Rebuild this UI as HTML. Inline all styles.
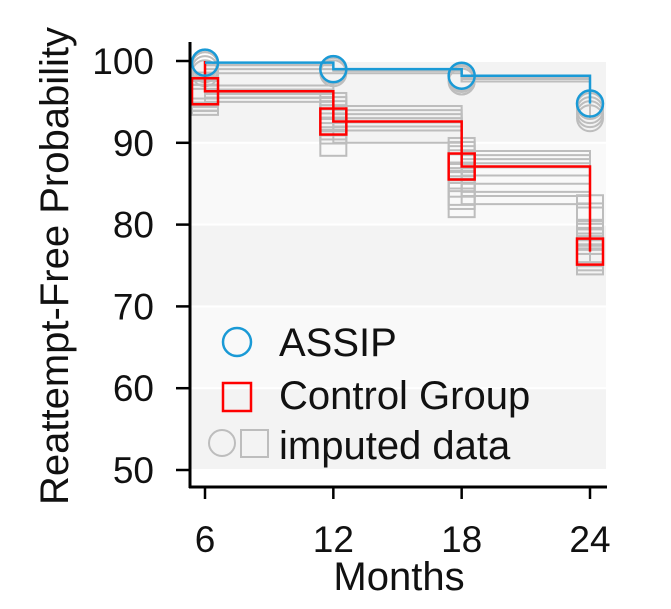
<!DOCTYPE html>
<html><head><meta charset="utf-8"><style>
html,body{margin:0;padding:0;background:#fff;}
svg{display:block;font-family:"Liberation Sans",sans-serif;}
</style></head><body>
<svg id="chart" width="671" height="609" viewBox="0 0 671 609">
<g id="bands"></g><g id="grayLines"></g><g id="mainLines"></g><g id="axes"></g>
<g id="legend">
  <circle cx="237" cy="342" r="14" fill="none" stroke="#1a9ad6" stroke-width="2.5"/>
  <text x="279" y="356" font-size="40" fill="#111">ASSIP</text>
  <rect x="223" y="383" width="28" height="28" fill="none" stroke="#ff0000" stroke-width="2.5"/>
  <text x="279" y="409" font-size="40" fill="#111">Control Group</text>
  <circle cx="222" cy="443" r="13" fill="none" stroke="#bdbdbd" stroke-width="2"/>
  <rect x="241" y="430" width="27" height="27" fill="none" stroke="#bdbdbd" stroke-width="2"/>
  <text x="279" y="459" font-size="40" fill="#111">imputed data</text>
</g>
</svg>
<script>
const months = [6, 12, 18, 24];
const assip = [99.8, 99.0, 98.2, 94.8];
const control = [96.3, 92.6, 87.1, 76.7];
const yTicks = [50, 60, 70, 80, 90, 100];
const imputedControl = [
  [96.5,94,89,82],[96,93.5,88.5,80.5],[95.5,93,88,79],[97,92.5,87.5,78.5],
  [96,92,87,78],[95.5,91.5,86,77],[96.5,94.5,85,76.5],[95,93,84,75.5],
  [96,92.5,83.5,81],[95.5,90,82.5,76]
];
const imputedAssip = [
  [99.5,99,98,94.5],[99,99,97.5,94],[98.5,98.5,97.5,93.5],[99.5,98.8,97.8,93]
];
const NS='http://www.w3.org/2000/svg';
const X=m=>205+(m-6)*(590-205)/18;
const Y=v=>61+(100-v)*(470-61)/50;
function mk(tag,attrs,parent){const e=document.createElementNS(NS,tag);for(const k in attrs)e.setAttribute(k,attrs[k]);parent.appendChild(e);return e;}
const bands=document.getElementById('bands');
for(let i=0;i<5;i++){
  const top=100-i*10;
  const r=mk('rect',{x:190,y:Y(top)+1,width:416,height:Y(top-10)-Y(top)-2,fill:i%2===0?'#f3f3f3':'#f9f9f9'},bands);
  
  
}
function stepPath(vals){
  let d='M'+X(months[0])+','+Y(100)+' L'+X(months[0])+','+Y(vals[0]);
  for(let i=1;i<vals.length;i++){d+=' L'+X(months[i])+','+Y(vals[i-1])+' L'+X(months[i])+','+Y(vals[i]);}
  return d;
}
const gl=document.getElementById('grayLines');
imputedControl.forEach(s=>{
  const p=mk('path',{d:stepPath(s),fill:'none',stroke:'#bdbdbd','stroke-width':2},gl);
  
  
  s.forEach((v,i)=>{const r=mk('rect',{x:X(months[i])-13,y:Y(v)-13,width:26,height:26,fill:'none',stroke:'#bdbdbd','stroke-width':2},gl);
    
    });
});
imputedAssip.forEach(s=>{
  const p=mk('path',{d:stepPath(s),fill:'none',stroke:'#bdbdbd','stroke-width':2},gl);
  
  
  s.forEach((v,i)=>{const c=mk('circle',{cx:X(months[i]),cy:Y(v),r:13,fill:'none',stroke:'#bdbdbd','stroke-width':2},gl);
    
    });
});
const ml=document.getElementById('mainLines');
const cp=mk('path',{d:stepPath(control),fill:'none',stroke:'#ff0000','stroke-width':2.5},ml);


control.forEach((v,i)=>{const r=mk('rect',{x:X(months[i])-13,y:Y(v)-13,width:26,height:26,fill:'none',stroke:'#ff0000','stroke-width':2.5},ml);
  
  });
let ad='M'+X(months[0])+','+Y(assip[0]);
for(let i=1;i<assip.length;i++){ad+=' L'+X(months[i])+','+Y(assip[i-1])+' L'+X(months[i])+','+Y(assip[i]);}
const ap=mk('path',{d:ad,fill:'none',stroke:'#1a9ad6','stroke-width':2.5},ml);


assip.forEach((v,i)=>{const c=mk('circle',{cx:X(months[i]),cy:Y(v),r:13,fill:'none',stroke:'#1a9ad6','stroke-width':2.5},ml);
  
  });
const ax=document.getElementById('axes');
const yl=mk('line',{x1:190,y1:42,x2:190,y2:488,stroke:'#000','stroke-width':3},ax);


const xl=mk('line',{x1:189,y1:487,x2:607,y2:487,stroke:'#000','stroke-width':3},ax);


yTicks.forEach(t=>{
  const l=mk('line',{x1:176,y1:Y(t),x2:190,y2:Y(t),stroke:'#000','stroke-width':2.5},ax);
  
  
  const tx=mk('text',{x:154,y:Y(t)+13,'font-size':37,'text-anchor':'end',fill:'#111'},ax);
  tx.textContent=t;
  
  
});
months.forEach(m=>{
  const l=mk('line',{x1:X(m),y1:487,x2:X(m),y2:499,stroke:'#000','stroke-width':2.5},ax);
  
  
  const tx=mk('text',{x:X(m),y:552,'font-size':37,'text-anchor':'middle',fill:'#111'},ax);
  tx.textContent=m;
  
  
});
const xt=mk('text',{x:399,y:590,'font-size':40,'text-anchor':'middle',fill:'#111'},ax);
xt.textContent='Months';


const yt=mk('text',{x:0,y:0,'font-size':40,'text-anchor':'middle',fill:'#111',transform:'translate(68,266) rotate(-90)'},ax);
yt.textContent='Reattempt-Free Probability';


</script>
</body></html>
